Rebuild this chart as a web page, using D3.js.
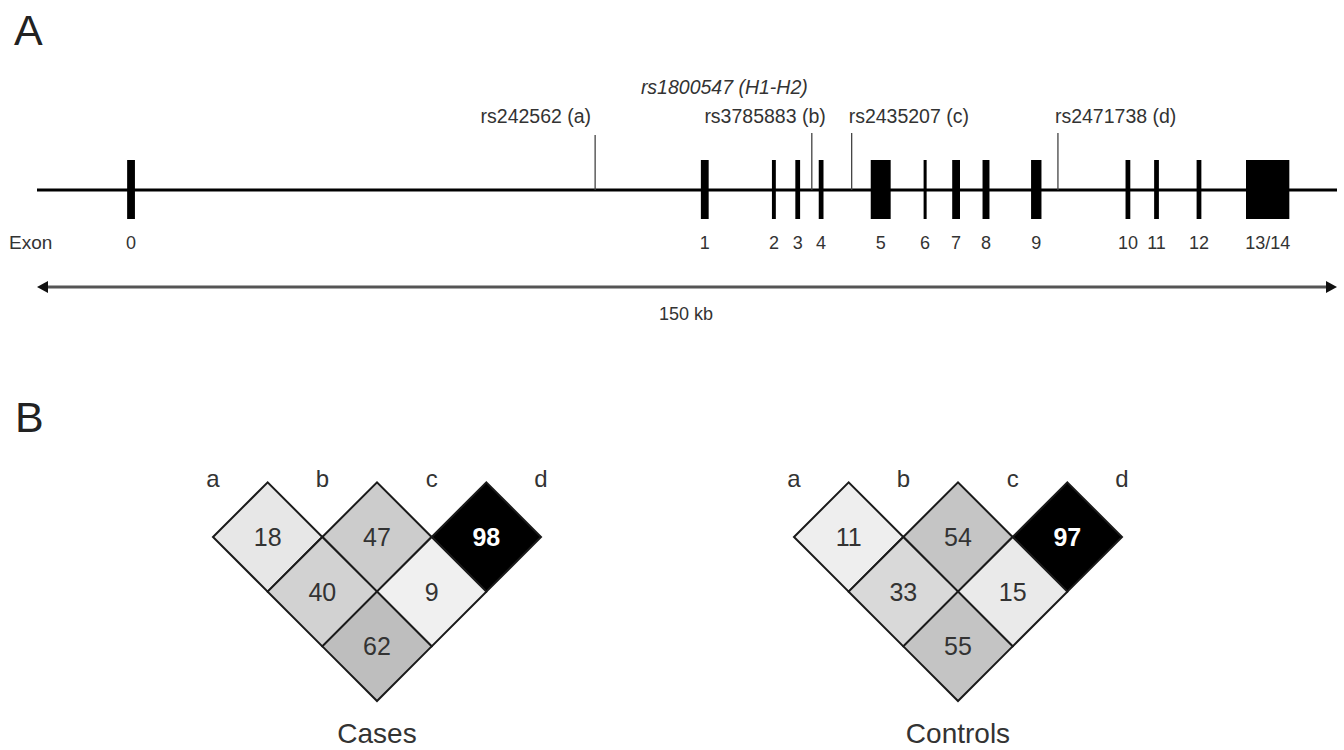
<!DOCTYPE html>
<html><head><meta charset="utf-8">
<script src="https://cdn.jsdelivr.net/npm/d3@7"></script>
<style>body{margin:0;background:#fff}svg{display:block;font-family:"Liberation Sans",Arial,sans-serif}</style>
</head><body><svg id="c" width="1344" height="750"></svg>
<script>
// ---- data ----
const geneLengthKb = 150;
const exonLabels = ["0","1","2","3","4","5","6","7","8","9","10","11","12","13/14"];
const exonStartKb = [10.4,76.6,84.8,87.5,90.2,96.2,102.3,105.6,109.1,114.7,125.6,128.9,133.8,139.5];
const exonSizeKb  = [0.9,0.9,0.45,0.55,0.55,2.3,0.35,0.9,0.8,1.2,0.55,0.55,0.55,5.0];
const snpNames  = ["rs242562 (a)","rs3785883 (b)","rs2435207 (c)","rs2471738 (d)"];
const snpPosKb  = [64.4,89.4,94.0,117.8];
const haploLabel = "rs1800547 (H1-H2)";
const scaleLabel = "150 kb";
const ldSnps = ["a","b","c","d"];
const ldPairs = [["a","b"],["b","c"],["c","d"],["a","c"],["b","d"],["a","d"]];
const casesValues    = [18,47,98,40,9,62];
const controlsValues = [11,54,97,33,15,55];
const panelTitles = ["Cases","Controls"];

// ---- drawing ----
const svg = d3.select("#c");
const x = d3.scaleLinear().domain([0, geneLengthKb]).range([37, 1337]);
const lineY = 190;
const textCol = "#333";

svg.append("text").attr("x",14).attr("y",45).attr("font-size",43).attr("fill","#222").text("A");
svg.append("text").attr("x",15).attr("y",432).attr("font-size",43).attr("fill","#222").text("B");

// gene backbone
svg.append("line").attr("x1",x(0)).attr("x2",x(geneLengthKb)).attr("y1",lineY).attr("y2",lineY)
  .attr("stroke","#000").attr("stroke-width",3);

// SNP ticks and labels
const snpAnchor = ["end","end","start","start"];
const snpDx = [-4, 14, -3, -3];
const snpTop = [135,133,133,133];
snpPosKb.forEach((p,i)=>{
  svg.append("line").attr("x1",x(p)).attr("x2",x(p)).attr("y1",snpTop[i]).attr("y2",lineY)
    .attr("stroke","#444").attr("stroke-width",1.3);
  svg.append("text").attr("x",x(p)+snpDx[i]).attr("y",123).attr("text-anchor",snpAnchor[i])
    .attr("font-size",19.5).attr("fill",textCol).text(snpNames[i]);
});
svg.append("text").attr("x",x(snpPosKb[1])-4).attr("y",94).attr("text-anchor","end")
  .attr("font-size",19.5).attr("font-style","italic").attr("fill",textCol).text(haploLabel);

// exons
svg.selectAll("rect.exon").data(exonLabels).join("rect").attr("class","exon")
  .attr("x",(d,i)=>x(exonStartKb[i]))
  .attr("width",(d,i)=>Math.max(2.5, x(exonStartKb[i]+exonSizeKb[i])-x(exonStartKb[i])))
  .attr("y",160).attr("height",59).attr("fill","#000");
svg.selectAll("text.exl").data(exonLabels).join("text").attr("class","exl")
  .attr("x",(d,i)=>x(exonStartKb[i]+exonSizeKb[i]/2)).attr("y",249).attr("text-anchor","middle")
  .attr("font-size",18).attr("fill",textCol).text(d=>d);
svg.append("text").attr("x",9).attr("y",249).attr("font-size",19).attr("fill",textCol).text("Exon");

// scale arrow
const ay = 287;
svg.append("line").attr("x1",x(0)+8).attr("x2",x(geneLengthKb)-8).attr("y1",ay).attr("y2",ay)
  .attr("stroke","#555").attr("stroke-width",3);
svg.append("path").attr("d",`M${x(0)},${ay} l11,-6 l0,12 z`).attr("fill","#111");
svg.append("path").attr("d",`M${x(geneLengthKb)},${ay} l-11,-6 l0,12 z`).attr("fill","#111");
svg.append("text").attr("x",686).attr("y",320).attr("text-anchor","middle").attr("font-size",18)
  .attr("fill",textCol).text(scaleLabel);

// LD diamonds
const gray = d3.scaleLinear().domain([0,70,80,100]).range(["#f8f8f8","#b6b6b6","#000","#000"]).clamp(true);
function ldPanel(values, title, range){
  const sx = d3.scalePoint().domain(ldSnps).range(range);
  const step = sx.step();
  const h = step/2;
  const row0 = 537;
  const g = svg.append("g");
  g.selectAll("text.snp").data(ldSnps).join("text").attr("class","snp")
    .attr("x",d=>sx(d)).attr("y",487).attr("text-anchor","middle").attr("font-size",24)
    .attr("fill",textCol).text(d=>d);
  const cells = ldPairs.map((p,i)=>{
    const cx=(sx(p[0])+sx(p[1]))/2;
    const k = ldSnps.indexOf(p[1])-ldSnps.indexOf(p[0]);
    return {cx, cy: row0+(k-1)*h, v: values[i]};
  });
  g.selectAll("path.cell").data(cells).join("path").attr("class","cell")
    .attr("d",c=>`M${c.cx-h},${c.cy} L${c.cx},${c.cy-h} L${c.cx+h},${c.cy} L${c.cx},${c.cy+h} Z`)
    .attr("fill",c=>gray(c.v)).attr("stroke","#1a1a1a").attr("stroke-width",2);
  g.selectAll("text.val").data(cells).join("text").attr("class","val")
    .attr("x",c=>c.cx).attr("y",c=>c.cy+9).attr("text-anchor","middle").attr("font-size",25)
    .attr("font-weight",c=>c.v>=80?"bold":"normal")
    .attr("fill",c=>c.v>=80?"#fff":textCol).text(c=>c.v);
  g.append("text").attr("x",(range[0]+range[1])/2).attr("y",743).attr("text-anchor","middle")
    .attr("font-size",28).attr("fill",textCol).text(title);
}
ldPanel(casesValues, panelTitles[0], [213,541]);
ldPanel(controlsValues, panelTitles[1], [794,1122]);
</script></body></html>
